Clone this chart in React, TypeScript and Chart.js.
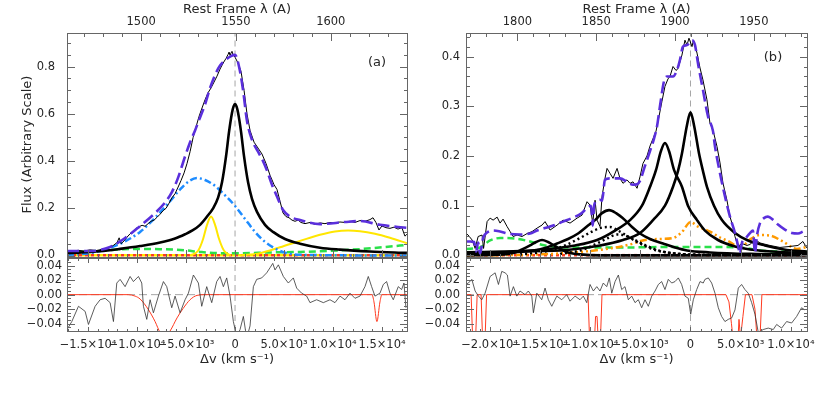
import React, { useEffect, useRef } from 'react';
import { Chart, registerables } from 'chart.js';

Chart.register(...registerables);
Chart.defaults.font.family = 'DejaVu Sans';
Chart.defaults.font.size = 11.5;
Chart.defaults.color = '#222';

type P = [number, number];

const W = 830;
const H = 399;

// ---------- axes ----------
const VA_MIN = -17150, VA_MAX = 17550;
const LA_MIN = 1460.9, LA_MAX = 1640.2;
const YA_MIN = -0.0042, YA_MAX = 0.944;
const VB_MIN = -22350, VB_MAX = 11600;
const LB_MIN = 1767.4, LB_MAX = 1983.7;
const YB_MIN = -0.0022, YB_MAX = 0.448;
const R_MIN = -0.05, R_MAX = 0.05;

const VA_TICKS = [-15000, -10000, -5000, 0, 5000, 10000, 15000];
const VA_TICK_LABELS = ['−1.5×10⁴', '−1.0×10⁴', '−5.0×10³', '0', '5.0×10³', '1.0×10⁴', '1.5×10⁴'];
const VB_TICKS = [-20000, -15000, -10000, -5000, 0, 5000, 10000];
const VB_TICK_LABELS = ['−2.0×10⁴', '−1.5×10⁴', '−1.0×10⁴', '−5.0×10³', '0', '5.0×10³', '1.0×10⁴'];
const LA_TICKS = [1500, 1550, 1600];
const LB_TICKS = [1800, 1850, 1900, 1950];
const YA_TICKS = [0, 0.2, 0.4, 0.6, 0.8];
const YA_TICK_LABELS = ['0.0', '0.2', '0.4', '0.6', '0.8'];
const YB_TICKS = [0, 0.1, 0.2, 0.3, 0.4];
const YB_TICK_LABELS = ['0.0', '0.1', '0.2', '0.3', '0.4'];
const R_TICKS = [-0.04, -0.02, 0, 0.02, 0.04];
const R_TICK_LABELS = ['−0.04', '−0.02', '0.00', '0.02', '0.04'];

// ---------- panel (a) data: [Δv km/s, flux] ----------
const A_OBS: P[] = [[-17140,0.020],[-16630,0.018],[-16010,0.022],[-15400,0.019],[-14790,0.024],[-14180,0.021],[-13570,0.026],[-12950,0.030],[-12440,0.042],[-12040,0.055],[-11830,0.075],[-11630,0.050],[-11320,0.062],[-11020,0.078],[-10710,0.092],[-10400,0.100],[-10100,0.115],[-9790,0.122],[-9490,0.128],[-9180,0.124],[-8870,0.135],[-8570,0.145],[-8260,0.150],[-7960,0.162],[-7650,0.175],[-7340,0.190],[-7040,0.200],[-6730,0.222],[-6430,0.245],[-6120,0.262],[-5810,0.290],[-5510,0.318],[-5200,0.350],[-4900,0.390],[-4590,0.440],[-4280,0.500],[-3980,0.545],[-3670,0.590],[-3370,0.625],[-3060,0.660],[-2750,0.690],[-2450,0.710],[-2140,0.735],[-1840,0.760],[-1530,0.790],[-1220,0.815],[-920,0.835],[-710,0.852],[-610,0.862],[-510,0.848],[-410,0.858],[-310,0.865],[-200,0.850],[0,0.840],[310,0.815],[610,0.780],[920,0.700],[1220,0.600],[1530,0.530],[1940,0.480],[2350,0.455],[2750,0.430],[3160,0.390],[3570,0.340],[3980,0.300],[4280,0.280],[4590,0.230],[4900,0.180],[5200,0.165],[5510,0.160],[5810,0.150],[6120,0.145],[6430,0.150],[6730,0.140],[7140,0.135],[7650,0.140],[8160,0.132],[8670,0.138],[9180,0.135],[9690,0.140],[10200,0.138],[10710,0.142],[11220,0.140],[11730,0.145],[12240,0.140],[12750,0.148],[13260,0.145],[13770,0.152],[14080,0.160],[14380,0.140],[14690,0.108],[14990,0.125],[15400,0.118],[15810,0.115],[16220,0.120],[16630,0.112],[17030,0.118],[17340,0.082],[17540,0.090]];
const A_FIT: P[] = [[-17140,0.019],[-14790,0.019],[-12750,0.036],[-11220,0.074],[-9690,0.125],[-8160,0.180],[-7140,0.225],[-6430,0.270],[-5810,0.330],[-5100,0.420],[-4590,0.480],[-4080,0.530],[-3570,0.585],[-3060,0.640],[-2550,0.710],[-2040,0.765],[-1530,0.805],[-920,0.830],[-410,0.845],[0,0.850],[410,0.800],[820,0.700],[1220,0.570],[1730,0.490],[2350,0.440],[2860,0.400],[3260,0.360],[3770,0.300],[4280,0.250],[4900,0.193],[5610,0.165],[6630,0.150],[8670,0.133],[11220,0.142],[12750,0.146],[14790,0.130],[17540,0.117]];
const A_CORE: P[] = [[-17140,0.010],[-13770,0.018],[-11730,0.028],[-9690,0.040],[-7650,0.055],[-6120,0.072],[-5100,0.090],[-4390,0.105],[-3570,0.130],[-2860,0.165],[-2240,0.200],[-1730,0.245],[-1330,0.310],[-920,0.420],[-610,0.525],[-310,0.605],[-150,0.632],[0,0.642],[150,0.632],[310,0.605],[610,0.525],[920,0.420],[1330,0.310],[1730,0.240],[2240,0.185],[3060,0.130],[3880,0.100],[5100,0.070],[6630,0.050],[8670,0.033],[10710,0.025],[13770,0.017],[17540,0.011]];
const A_BROAD: P[] = [[-17140,0.003],[-14790,0.010],[-12750,0.032],[-11220,0.060],[-9690,0.100],[-8160,0.160],[-6630,0.230],[-5610,0.280],[-4590,0.318],[-3880,0.328],[-3060,0.320],[-2040,0.295],[-1020,0.255],[0,0.210],[1020,0.155],[2040,0.100],[3060,0.058],[4080,0.030],[5100,0.012],[6630,0.003],[17540,0.0]];
const A_NARROW_Y: P[] = [[-4590,0],[-3770,0.02],[-3260,0.07],[-2860,0.13],[-2450,0.165],[-2040,0.13],[-1630,0.07],[-1120,0.02],[-410,0]];
const A_WIDE_Y: P[] = [[510,0],[2550,0.010],[4590,0.035],[6630,0.062],[8670,0.088],[10200,0.102],[11530,0.106],[12750,0.103],[14280,0.092],[15810,0.075],[17540,0.052]];
const A_CONT: P[] = [[-17140,0.012],[-13770,0.020],[-10710,0.028],[-7650,0.027],[-5100,0.022],[-3570,0.015],[-1530,0.010],[510,0.010],[3570,0.013],[6630,0.015],[9690,0.020],[12750,0.027],[15300,0.036],[17540,0.045]];
const A_RES: P[] = [[-17150,-0.048],[-16660,-0.037],[-15980,-0.016],[-15300,-0.023],[-14960,-0.041],[-14280,-0.016],[-13770,-0.007],[-13260,-0.005],[-12750,-0.011],[-12410,-0.037],[-12070,0.016],[-11730,0.021],[-11220,0.011],[-10710,0.025],[-10370,0.018],[-9860,0.025],[-9520,0.016],[-9350,-0.016],[-9010,-0.034],[-8670,-0.007],[-8330,-0.025],[-7820,-0.002],[-7310,0.018],[-6970,0.011],[-6460,-0.018],[-6120,-0.002],[-5610,-0.025],[-5100,-0.007],[-4760,0.002],[-4250,0.027],[-3740,0.016],[-3400,-0.016],[-2890,0.011],[-2380,-0.011],[-1870,0.018],[-1530,0.025],[-1190,0.011],[-850,0.023],[-510,-0.002],[-170,-0.037],[170,-0.058],[510,-0.048],[850,-0.030],[1190,-0.060],[1530,-0.043],[1870,0.011],[2210,0.021],[2720,0.023],[3230,0.030],[3570,0.037],[3850,0.043],[4080,0.034],[4420,0.041],[4930,0.025],[5440,0.016],[5950,0.023],[6290,0.009],[6800,0.002],[7310,-0.002],[7650,-0.011],[8330,-0.007],[9010,-0.011],[9690,-0.007],[10200,-0.011],[10710,-0.002],[11220,-0.007],[11730,0.002],[12240,-0.005],[12750,-0.002],[13260,0.011],[13600,0.025],[13940,0.011],[14280,-0.002],[14790,0.002],[15130,0.014],[15470,0.018],[15810,0.002],[16150,-0.007],[16660,0.011],[17000,0.007],[17240,0.016],[17440,-0.018]];
const A_RES_MODEL: P[] = [[-17150,0],[-10910,0],[-10200,-0.002],[-9690,-0.006],[-8870,-0.020],[-8160,-0.037],[-7650,-0.052],[-7140,-0.058],[-6630,-0.050],[-5920,-0.032],[-5300,-0.019],[-4590,-0.007],[-3880,-0.001],[-3060,0],[13970,0],[14180,-0.010],[14480,-0.037],[14790,-0.010],[14990,0],[17550,0]];

// ---------- panel (b) data: [Δv km/s, flux] ----------
const B_OBS: P[] = [[-22340,0.044],[-22140,0.041],[-21740,0.031],[-21440,0.014],[-21140,0.038],[-20750,0.041],[-20600,0.014],[-20250,0.068],[-19950,0.075],[-19650,0.071],[-19250,0.077],[-18960,0.065],[-18660,0.073],[-18260,0.058],[-17960,0.048],[-17660,0.038],[-17260,0.041],[-16770,0.038],[-16270,0.044],[-15770,0.048],[-15270,0.055],[-14780,0.061],[-14480,0.068],[-13980,0.051],[-13280,0.061],[-12690,0.071],[-11990,0.065],[-11290,0.075],[-10800,0.081],[-10300,0.108],[-10000,0.101],[-9730,0.065],[-9500,0.111],[-9300,0.071],[-9010,0.058],[-8810,0.118],[-8510,0.155],[-8310,0.175],[-8010,0.165],[-7710,0.155],[-7310,0.175],[-7020,0.155],[-6720,0.145],[-6320,0.152],[-6020,0.145],[-5720,0.148],[-5320,0.135],[-5030,0.158],[-4730,0.185],[-4330,0.200],[-4030,0.220],[-3730,0.235],[-3430,0.250],[-3130,0.280],[-2840,0.310],[-2540,0.340],[-2240,0.355],[-2040,0.360],[-1740,0.380],[-1440,0.372],[-1240,0.376],[-850,0.403],[-550,0.433],[-350,0.423],[-150,0.437],[150,0.420],[300,0.433],[650,0.407],[950,0.377],[1240,0.353],[1640,0.313],[1940,0.266],[2240,0.252],[2640,0.219],[2940,0.186],[3230,0.146],[3630,0.111],[3930,0.078],[4230,0.058],[4430,0.038],[4730,0.018],[5120,0.024],[5620,0.020],[5920,0.022],[6420,0.032],[6920,0.025],[7910,0.020],[8910,0.016],[9900,0.018],[10700,0.020],[11190,0.028],[11590,0.015]];
const B_FIT: P[] = [[-22340,0.028],[-21940,0.028],[-21540,0.027],[-21340,0.008],[-21140,0.026],[-20950,0.004],[-20650,0.035],[-20250,0.046],[-19650,0.050],[-18960,0.048],[-17960,0.043],[-16970,0.042],[-15970,0.044],[-15270,0.050],[-14480,0.055],[-13680,0.060],[-12690,0.068],[-11690,0.076],[-10900,0.084],[-10300,0.095],[-9900,0.100],[-9730,0.060],[-9600,0.100],[-9300,0.110],[-9010,0.112],[-8810,0.110],[-8510,0.152],[-8010,0.155],[-7020,0.155],[-6320,0.148],[-5720,0.142],[-5320,0.143],[-5030,0.150],[-4530,0.180],[-4030,0.210],[-3630,0.235],[-3330,0.260],[-3040,0.300],[-2640,0.350],[-2340,0.360],[-1740,0.360],[-1340,0.373],[-1050,0.393],[-750,0.420],[-350,0.423],[150,0.433],[450,0.423],[750,0.386],[1240,0.333],[1740,0.280],[2240,0.250],[2440,0.219],[2940,0.165],[3430,0.119],[3930,0.078],[4430,0.045],[4730,0.020],[4930,0.003],[5120,0.025],[5520,0.035],[5920,0.045],[6220,0.050],[6420,0.005],[6620,0.040],[6920,0.065],[7310,0.075],[7710,0.078],[8210,0.072],[8710,0.062],[9400,0.052],[10100,0.045],[10700,0.044],[11190,0.048],[11590,0.052]];
const B_C1: P[] = [[-22340,0.006],[-16970,0.008],[-12290,0.011],[-9010,0.020],[-6720,0.031],[-5030,0.045],[-3730,0.071],[-2540,0.100],[-1740,0.138],[-1240,0.170],[-850,0.205],[-350,0.262],[0,0.288],[350,0.262],[850,0.205],[1240,0.170],[1640,0.138],[2340,0.100],[3130,0.071],[4430,0.045],[5620,0.031],[7410,0.020],[9600,0.011],[11590,0.008]];
const B_C2: P[] = [[-22340,0.005],[-16970,0.009],[-14480,0.012],[-11490,0.020],[-9300,0.031],[-7510,0.050],[-6020,0.071],[-4830,0.100],[-4030,0.138],[-3430,0.172],[-2940,0.210],[-2540,0.226],[-2140,0.210],[-1640,0.172],[-850,0.138],[-250,0.100],[650,0.071],[1440,0.050],[2740,0.031],[4430,0.018],[5920,0.012],[8910,0.007],[11590,0.005]];
const B_C3: P[] = [[-22340,0.003],[-18960,0.005],[-15670,0.010],[-14480,0.015],[-13280,0.024],[-12190,0.033],[-11190,0.044],[-10200,0.060],[-9500,0.071],[-8810,0.085],[-8110,0.091],[-7410,0.085],[-6520,0.071],[-5820,0.057],[-5030,0.044],[-4030,0.033],[-2740,0.024],[-1540,0.016],[-350,0.010],[1940,0.006],[5920,0.003],[11590,0.002]];
const B_C4: P[] = [[-22340,0],[-18560,0.002],[-17460,0.006],[-16770,0.012],[-15970,0.020],[-15370,0.027],[-14780,0.031],[-14180,0.027],[-13580,0.020],[-12890,0.012],[-12190,0.006],[-11000,0.002],[-9010,0],[11590,0]];
const B_D1: P[] = [[-16970,0.002],[-14480,0.008],[-12490,0.020],[-11000,0.035],[-9800,0.048],[-8810,0.056],[-8010,0.057],[-7210,0.050],[-6220,0.038],[-5030,0.024],[-3530,0.011],[-1540,0.004],[950,0.001]];
const B_D2: P[] = [[-12990,0.003],[-11000,0.010],[-9500,0.022],[-8310,0.034],[-7310,0.042],[-6520,0.040],[-5520,0.031],[-4230,0.018],[-2840,0.008],[-1050,0.003],[1940,0.001]];
const B_FE: P[] = [[-22340,0],[-14980,0.002],[-11000,0.007],[-8010,0.014],[-6020,0.022],[-4530,0.031],[-3040,0.033],[-1740,0.035],[-850,0.047],[0,0.067],[750,0.058],[1940,0.048],[2940,0.036],[3930,0.027],[4930,0.015],[5920,0.032],[6920,0.041],[7910,0.040],[9200,0.028],[10600,0.013],[11590,0.017]];
const B_CONT: P[] = [[-22340,0.013],[-20950,0.016],[-19950,0.030],[-18960,0.035],[-17460,0.034],[-15970,0.028],[-14480,0.020],[-11990,0.016],[-7020,0.016],[-1050,0.017],[2940,0.017],[5420,0.015],[6920,0.010],[11590,0.007]];
const B_RES: P[] = [[-22440,0.014],[-22110,0.016],[-21770,0.021],[-21440,0.005],[-21110,-0.002],[-20780,-0.007],[-20450,0.002],[-19950,0.025],[-19450,0.030],[-19120,0.014],[-18790,0.032],[-18460,0.030],[-18230,0.027],[-17960,-0.002],[-17630,0.011],[-17290,-0.002],[-16970,0.005],[-16470,0.000],[-16140,0.005],[-15800,-0.002],[-15640,-0.025],[-15300,0.002],[-14810,-0.007],[-14480,0.009],[-14150,-0.007],[-13810,-0.016],[-13310,-0.002],[-12820,-0.007],[-12320,0.000],[-11990,-0.009],[-11490,-0.002],[-11000,-0.007],[-10670,-0.002],[-10330,-0.011],[-10000,0.014],[-9670,0.005],[-9330,0.011],[-9010,0.005],[-8680,0.016],[-8340,0.011],[-8080,0.023],[-7840,0.002],[-7510,0.018],[-7180,0.027],[-6850,0.007],[-6520,0.011],[-6190,-0.007],[-5850,-0.002],[-5520,-0.011],[-5190,-0.007],[-4860,-0.018],[-4530,-0.007],[-4200,-0.016],[-3860,-0.002],[-3530,0.005],[-3200,0.014],[-2870,0.018],[-2540,0.007],[-2210,0.021],[-1870,0.016],[-1540,0.018],[-1210,0.023],[-880,0.014],[-550,-0.002],[-220,-0.005],[20,-0.027],[280,-0.007],[620,0.007],[950,0.018],[1270,0.016],[1440,0.021],[1770,0.023],[2110,0.016],[2440,0.002],[2770,-0.018],[3100,-0.030],[3430,-0.037],[3760,-0.034],[4100,-0.032],[4430,-0.021],[4760,0.009],[5090,0.014],[5420,0.007],[5750,0.002],[6090,-0.011],[6420,-0.027],[6750,-0.052],[7240,-0.048],[7740,-0.046],[8240,-0.048],[8580,-0.041],[9070,-0.046],[9570,-0.037],[10070,-0.039],[10570,-0.030],[11060,-0.018],[11390,-0.021]];
const B_RES_MODEL: P[] = [[-22350,0],[-21840,0],[-21690,-0.06],[-21390,-0.06],[-21240,0],[-20850,0],[-20700,-0.06],[-20450,-0.06],[-20300,0],[-10200,0],[-10050,-0.06],[-9550,-0.06],[-9450,-0.03],[-9300,-0.03],[-9200,-0.06],[-8960,-0.06],[-8810,0],[3530,0],[3830,-0.01],[4080,-0.04],[4230,-0.06],[4730,-0.06],[4830,-0.034],[4980,-0.06],[5220,-0.03],[5470,0],[6120,0],[6420,-0.02],[6620,-0.06],[6920,-0.06],[7110,0],[11600,0]];

// ---------- styles ----------
const PURPLE = '#5a2fdc';
const BLUE = '#1e8cff';
const YELLOW = '#ffe600';
const GREEN = '#2ae04a';
const ORANGE = '#ff9a00';
const RED = '#ff3a20';
const GREY = '#a6a6a6';
const AXIS = '#666666';
const TEXT = '#262626';
const TITLE_FONT = { size: 13 };
const TICK_FONT = { size: 11.5 };

const SMOOTH = { cubicInterpolationMode: 'monotone' };

function line(data: P[], color: string, width: number, extra: Record<string, any> = {}) {
  return {
    data: data.map(([x, y]) => ({ x, y })),
    borderColor: color,
    backgroundColor: color,
    borderWidth: width,
    pointRadius: 0,
    pointHoverRadius: 0,
    pointHitRadius: 0,
    fill: false,
    tension: 0,
    ...extra,
  };
}

function stackOrder(list: any[]) {
  return list.map((d, i) => ({ ...d, order: -i }));
}

type TickSpec = { id: string; majors: number[]; minor: number; major: number; minorLen: number };
type BoxSpec = { bottom: TickSpec; top: TickSpec; side: TickSpec; tag?: { text: string; dx: number; dy: number } };

function minorValues(lo: number, hi: number, step: number) {
  const out: number[] = [];
  const k0 = Math.ceil(Math.min(lo, hi) / step - 1e-6);
  const k1 = Math.floor(Math.max(lo, hi) / step + 1e-6);
  for (let k = k0; k <= k1; k++) out.push(k * step);
  return out;
}

function idlBox(spec: BoxSpec) {
  return {
    id: 'idlBox',
    afterDraw(chart: any) {
      const ctx = chart.ctx;
      const a = chart.chartArea;
      const L = Math.round(a.left);
      const R = Math.round(a.right);
      const T = Math.round(a.top);
      const B = Math.round(a.bottom);
      ctx.save();
      ctx.fillStyle = AXIS;
      ctx.fillRect(L, T, R - L + 1, 1);
      ctx.fillRect(L, B, R - L + 1, 1);
      ctx.fillRect(L, T, 1, B - T + 1);
      ctx.fillRect(R, T, 1, B - T + 1);

      const hMarks = (t: TickSpec, atBottom: boolean) => {
        const s = chart.scales[t.id];
        const draw = (v: number, len: number) => {
          const px = Math.round(s.getPixelForValue(v));
          if (px > L && px < R) {
            if (atBottom) ctx.fillRect(px, B - len, 1, len);
            else ctx.fillRect(px, T + 1, 1, len);
          }
        };
        for (const v of minorValues(s.min, s.max, t.minor)) draw(v, t.minorLen);
        for (const v of t.majors) draw(v, t.major);
      };
      const vMarks = (t: TickSpec) => {
        const s = chart.scales[t.id];
        const draw = (v: number, len: number) => {
          const py = Math.round(s.getPixelForValue(v));
          if (py > T && py < B) {
            ctx.fillRect(L + 1, py, len, 1);
            ctx.fillRect(R - len, py, len, 1);
          }
        };
        for (const v of minorValues(s.min, s.max, t.minor)) draw(v, t.minorLen);
        for (const v of t.majors) draw(v, t.major);
      };
      hMarks(spec.bottom, true);
      hMarks(spec.top, false);
      vMarks(spec.side);

      if (spec.tag) {
        ctx.fillStyle = TEXT;
        ctx.font = '13px "DejaVu Sans"';
        ctx.textAlign = 'center';
        ctx.textBaseline = 'middle';
        ctx.fillText(spec.tag.text, a.right + spec.tag.dx, a.top + spec.tag.dy);
      }
      ctx.restore();
    },
  };
}

type Area = [number, number, number, number];

function baseOptions(padding: any) {
  return {
    responsive: false,
    maintainAspectRatio: false,
    animation: false,
    events: [],
    layout: { padding },
    plugins: { legend: { display: false }, tooltip: { enabled: false } },
  };
}

function yScale(min: number, max: number, ticks: number[], labels: string[], width: number, pad: number, title?: string) {
  return {
    type: 'linear',
    position: 'left',
    min,
    max,
    afterBuildTicks: (s: any) => { s.ticks = ticks.map((value) => ({ value })); },
    afterFit: (s: any) => { s.width = width; s.paddingTop = 0; s.paddingBottom = 0; },
    grid: { display: false, drawTicks: false },
    border: { display: false },
    ticks: { autoSkip: false, padding: pad, color: TEXT, font: TICK_FONT, callback: (_v: any, i: number) => labels[i] },
    title: title
      ? { display: true, text: title, color: TEXT, font: TITLE_FONT, padding: { top: 2.7, bottom: 0 } }
      : { display: false },
  };
}

function mainConfig(o: {
  area: Area; yW: number; yPad: number; yTitle?: string;
  vMin: number; vMax: number; vTicks: number[];
  lMin: number; lMax: number; lTicks: number[];
  yMin: number; yMax: number; yTicks: number[]; yLabels: string[]; yMinor: number;
  datasets: any[]; tag: { text: string; dx: number; dy: number };
}) {
  const [L, T, R, B] = o.area;
  return {
    type: 'line',
    data: { datasets: o.datasets },
    options: {
      ...baseOptions({ left: L - o.yW, top: 0, right: W - R, bottom: H - B }),
      scales: {
        x: { type: 'linear', min: o.vMin, max: o.vMax, display: false },
        xTop: {
          type: 'linear',
          position: 'top',
          min: o.lMin,
          max: o.lMax,
          afterBuildTicks: (s: any) => { s.ticks = o.lTicks.map((value) => ({ value })); },
          afterFit: (s: any) => { s.height = T; s.paddingLeft = 0; s.paddingRight = 0; },
          grid: { display: false, drawTicks: false },
          border: { display: false },
          ticks: { autoSkip: false, maxRotation: 0, minRotation: 0, padding: 4, color: TEXT, font: TICK_FONT, callback: (v: any) => String(v) },
          title: { display: true, text: 'Rest Frame λ (A)', color: TEXT, font: TITLE_FONT, padding: { top: 2.2, bottom: 0 } },
        },
        y: yScale(o.yMin, o.yMax, o.yTicks, o.yLabels, o.yW, o.yPad, o.yTitle),
      },
    },
    plugins: [
      idlBox({
        bottom: { id: 'x', majors: o.vTicks, minor: 1000, major: 7, minorLen: 3 },
        top: { id: 'xTop', majors: o.lTicks, minor: 10, major: 7, minorLen: 3 },
        side: { id: 'y', majors: o.yTicks, minor: o.yMinor, major: 7, minorLen: 3 },
        tag: o.tag,
      }),
    ],
  };
}

function residConfig(o: {
  area: Area; yW: number; yPad: number;
  vMin: number; vMax: number; vTicks: number[]; vLabels: string[];
  datasets: any[];
}) {
  const [L, T, R, B] = o.area;
  const xH = 40;
  return {
    type: 'line',
    data: { datasets: o.datasets },
    options: {
      ...baseOptions({ left: L - o.yW, top: T, right: W - R, bottom: H - B - xH }),
      scales: {
        x: {
          type: 'linear',
          position: 'bottom',
          min: o.vMin,
          max: o.vMax,
          afterBuildTicks: (s: any) => { s.ticks = o.vTicks.map((value) => ({ value })); },
          afterFit: (s: any) => { s.height = xH; s.paddingLeft = 0; s.paddingRight = 0; },
          grid: { display: false, drawTicks: false },
          border: { display: false },
          ticks: { autoSkip: false, maxRotation: 0, minRotation: 0, padding: 7, color: TEXT, font: TICK_FONT, callback: (_v: any, i: number) => o.vLabels[i] },
          title: { display: true, text: 'Δv (km s⁻¹)', color: TEXT, font: TITLE_FONT, padding: { top: 0, bottom: 3.2 } },
        },
        y: yScale(R_MIN, R_MAX, R_TICKS, R_TICK_LABELS, o.yW, o.yPad),
      },
    },
    plugins: [
      idlBox({
        bottom: { id: 'x', majors: o.vTicks, minor: 1000, major: 4, minorLen: 2 },
        top: { id: 'x', majors: o.vTicks, minor: 1000, major: 4, minorLen: 2 },
        side: { id: 'y', majors: R_TICKS, minor: 0.005, major: 7, minorLen: 3 },
      }),
    ],
  };
}

const mainA = () =>
  mainConfig({
    area: [67, 32.7, 407, 256.5], yW: 50, yPad: 12, yTitle: 'Flux (Arbitrary Scale)',
    vMin: VA_MIN, vMax: VA_MAX, vTicks: VA_TICKS,
    lMin: LA_MIN, lMax: LA_MAX, lTicks: LA_TICKS,
    yMin: YA_MIN, yMax: YA_MAX, yTicks: YA_TICKS, yLabels: YA_TICK_LABELS, yMinor: 0.05,
    tag: { text: '(a)', dx: -30, dy: 30 },
    datasets: stackOrder([
      line([[0, YA_MIN], [0, YA_MAX]], GREY, 1, { borderDash: [6, 4] }),
      line([[VA_MIN, 0], [VA_MAX, 0]], RED, 3, { borderDash: [3, 3] }),
      line([[VA_MIN, 0], [VA_MAX, 0]], YELLOW, 3, { borderDash: [3, 3], borderDashOffset: 3 }),
      line(A_CONT, GREEN, 2.5, { ...SMOOTH, borderDash: [7, 4], clip: 2 }),
      line(A_NARROW_Y, YELLOW, 2, { ...SMOOTH, clip: 2 }),
      line(A_WIDE_Y, YELLOW, 2, { ...SMOOTH, clip: 2 }),
      line(A_BROAD, BLUE, 2.5, { ...SMOOTH, borderDash: [7, 3, 2, 3], clip: 2 }),
      line(A_CORE, '#000', 2.6, { ...SMOOTH, clip: 2 }),
      line(A_OBS, '#000', 1, { clip: 1 }),
      line(A_FIT, PURPLE, 2.6, { ...SMOOTH, borderDash: [12, 5], clip: 2 }),
    ]),
  });

const residA = () =>
  residConfig({
    area: [67, 258.3, 407, 331], yW: 50, yPad: 5,
    vMin: VA_MIN, vMax: VA_MAX, vTicks: VA_TICKS, vLabels: VA_TICK_LABELS,
    datasets: stackOrder([
      line([[VA_MIN, 0], [VA_MAX, 0]], GREY, 1, { borderDash: [8, 4], clip: 0 }),
      line([[0, R_MIN], [0, R_MAX]], GREY, 1, { borderDash: [6, 4], clip: 0 }),
      line(A_RES_MODEL, RED, 1, { ...SMOOTH, clip: 0 }),
      line(A_RES, '#333', 0.8, { clip: 0 }),
    ]),
  });

const mainB = () =>
  mainConfig({
    area: [466, 32.7, 807, 256.5], yW: 46, yPad: 6,
    vMin: VB_MIN, vMax: VB_MAX, vTicks: VB_TICKS,
    lMin: LB_MIN, lMax: LB_MAX, lTicks: LB_TICKS,
    yMin: YB_MIN, yMax: YB_MAX, yTicks: YB_TICKS, yLabels: YB_TICK_LABELS, yMinor: 0.02,
    tag: { text: '(b)', dx: -34, dy: 25 },
    datasets: stackOrder([
      line([[0, YB_MIN], [0, YB_MAX]], GREY, 1, { borderDash: [6, 4] }),
      line([[VB_MIN, 0], [VB_MAX, 0]], RED, 3, { borderDash: [3, 3] }),
      line(B_CONT, GREEN, 2.5, { ...SMOOTH, borderDash: [7, 4], clip: 2 }),
      line(B_FE, ORANGE, 2.5, { ...SMOOTH, borderDash: [7, 3, 2, 3, 2, 3, 2, 3], clip: 2 }),
      line(B_D1, '#000', 2.5, { ...SMOOTH, borderDash: [2, 3], clip: 2 }),
      line(B_D2, '#000', 2.5, { ...SMOOTH, borderDash: [2, 3], clip: 2 }),
      line(B_C4, '#000', 2.6, { ...SMOOTH, clip: 2 }),
      line(B_C3, '#000', 2.6, { ...SMOOTH, clip: 2 }),
      line(B_C2, '#000', 2.6, { ...SMOOTH, clip: 2 }),
      line(B_C1, '#000', 2.6, { ...SMOOTH, clip: 2 }),
      line(B_OBS, '#000', 1, { clip: 1 }),
      line(B_FIT, PURPLE, 2.6, { ...SMOOTH, borderDash: [12, 5], clip: 2 }),
    ]),
  });

const residB = () =>
  residConfig({
    area: [466, 258.3, 807, 331], yW: 46, yPad: 6,
    vMin: VB_MIN, vMax: VB_MAX, vTicks: VB_TICKS, vLabels: VB_TICK_LABELS,
    datasets: stackOrder([
      line([[VB_MIN, 0], [VB_MAX, 0]], GREY, 1, { borderDash: [8, 4], clip: 0 }),
      line([[0, R_MIN], [0, R_MAX]], GREY, 1, { borderDash: [6, 4], clip: 0 }),
      line(B_RES_MODEL, RED, 1, { clip: 0 }),
      line(B_RES, '#333', 0.8, { clip: 0 }),
    ]),
  });

function ChartLayer({ config }: { config: () => any }) {
  const ref = useRef<HTMLCanvasElement | null>(null);
  useEffect(() => {
    if (!ref.current) return;
    const chart = new Chart(ref.current, config());
    return () => chart.destroy();
  }, [config]);
  return <canvas ref={ref} width={W} height={H} style={{ position: 'absolute', left: 0, top: 0, width: W, height: H }} />;
}

export default function App() {
  return (
    <div style={{ position: 'fixed', left: 0, top: 0, width: W, height: H, background: '#fff', overflow: 'hidden' }}>
      <ChartLayer config={mainA} />
      <ChartLayer config={residA} />
      <ChartLayer config={mainB} />
      <ChartLayer config={residB} />
    </div>
  );
}
